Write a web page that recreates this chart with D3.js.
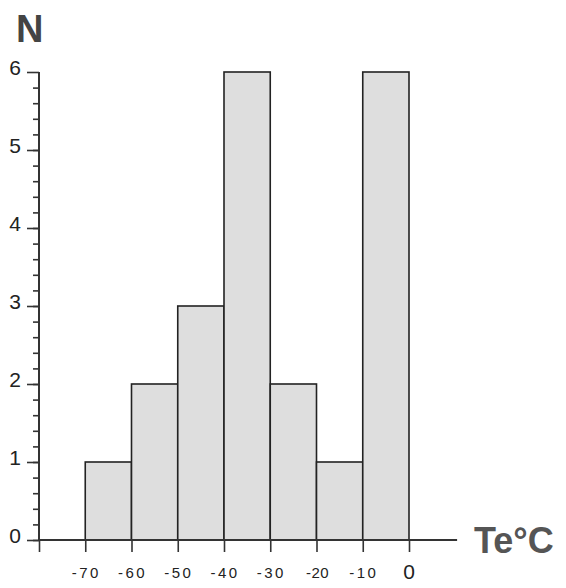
<!DOCTYPE html>
<html lang="en">
<head>
<meta charset="utf-8">
<title>Te histogram</title>
<script src="https://d3js.org/d3.v7.min.js"></script>
<style>
  body { margin: 0; background: #fff; }
  text { font-family: "Liberation Sans", Arial, sans-serif; }
</style>
</head>
<body>
<script>
// bins of 10 degrees, lower edges
var binStart = [-70, -60, -50, -40, -30, -20, -10];
var counts = [1, 2, 3, 6, 2, 1, 6];
var xTickLabels = ["-70", "-60", "-50", "-40", "-30", "-20", "-10", "0"];
var yTickLabels = [0, 1, 2, 3, 4, 5, 6];

var width = 566, height = 588;

var svg = d3.select("body").append("svg")
    .attr("width", width)
    .attr("height", height);

var x = d3.scaleLinear().domain([-80, 0]).range([39, 409]);
var y = d3.scaleLinear().domain([0, 6]).range([540, 72]);

// bars
svg.selectAll("rect.bar")
    .data(binStart)
    .enter()
    .append("rect")
    .attr("class", "bar")
    .attr("x", function (d) { return x(d); })
    .attr("width", function (d) { return x(d + 10) - x(d); })
    .attr("y", function (d, i) { return y(counts[i]); })
    .attr("height", function (d, i) { return y(0) - y(counts[i]); })
    .attr("fill", "#dedede")
    .attr("stroke", "#222")
    .attr("stroke-width", 1.6);

// x axis baseline runs a bit past 0
svg.append("line")
    .attr("x1", x(-80)).attr("x2", x(10.4))
    .attr("y1", y(0)).attr("y2", y(0))
    .attr("stroke", "#333").attr("stroke-width", 2);

var xAxis = svg.append("g")
    .attr("transform", "translate(0," + y(0) + ")")
    .call(d3.axisBottom(x)
        .tickValues(d3.range(-80, 1, 10))
        .tickSize(12)
        .tickFormat(""));
xAxis.select(".domain").remove();
xAxis.selectAll("line").attr("stroke", "#333").attr("stroke-width", 1.6);

// x labels
svg.selectAll("text.xlab")
    .data(xTickLabels)
    .enter()
    .append("text")
    .attr("class", "xlab")
    .attr("x", function (d) { return x(+d) + (d == "0" ? 0 : 1); })
    .attr("y", function (d) { return d == "0" ? 579 : 578; })
    .attr("text-anchor", "middle")
    .style("font-size", function (d) { return d == "0" ? "21px" : "15px"; })
    .style("letter-spacing", function (d) { return d == "0" ? "0px" : (d == "-20" ? "0.5px" : "2.5px"); })
    .attr("fill", "#222")
    .text(function (d) { return d; });

// y axis: minor ticks
var yMinor = svg.append("g")
    .attr("transform", "translate(" + x(-80) + ",0)")
    .call(d3.axisLeft(y)
        .tickValues(d3.range(0, 30).map(function (i) { return i / 5; }))
        .tickSize(6)
        .tickFormat(""));
yMinor.select(".domain").remove();
yMinor.selectAll("line").attr("stroke", "#333").attr("stroke-width", 1.6);

// y axis: major ticks with labels
var yMajor = svg.append("g")
    .attr("transform", "translate(" + x(-80) + ",0)")
    .call(d3.axisLeft(y)
        .tickValues(yTickLabels)
        .tickFormat(d3.format("d"))
        .tickSize(12)
        .tickPadding(6));
yMajor.select(".domain")
    .attr("d", "M0," + y(6) + "V" + y(0))
    .attr("stroke", "#333").attr("stroke-width", 2);
yMajor.selectAll("line").attr("stroke", "#333").attr("stroke-width", 1.6);
yMajor.selectAll("text")
    .style("font-size", "21px")
    .style("font-family", "'Liberation Sans', Arial, sans-serif")
    .attr("fill", "#222")
    .attr("dy", "0.1em");

// axis titles
svg.append("text")
    .attr("x", 16).attr("y", 42)
    .style("font-size", "38px")
    .style("font-weight", "bold")
    .attr("fill", "#444")
    .text("N");

svg.append("text")
    .attr("x", 474).attr("y", 553)
    .style("font-size", "36px")
    .style("font-weight", "bold")
    .attr("fill", "#555")
    .text("Te°C");
</script>
</body>
</html>
